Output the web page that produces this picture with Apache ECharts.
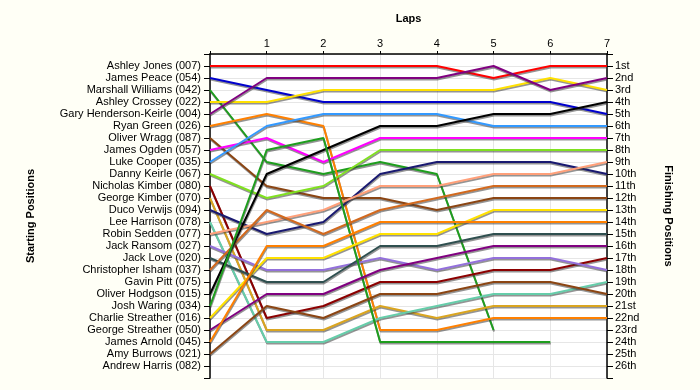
<!DOCTYPE html>
<html>
<head>
<meta charset="utf-8">
<script src="https://cdn.jsdelivr.net/npm/echarts@6/dist/echarts.min.js"></script>
<style>
html,body{margin:0;padding:0;background:#FFFFF6;}
#chart{width:700px;height:390px;}
</style>
</head>
<body>
<div id="chart"></div>
<script>
// ---- data ----
const laps = [0, 1, 2, 3, 4, 5, 6, 7];
const lapTickLabels = ['', '1', '2', '3', '4', '5', '6', '7'];
const startingNames = [
  'Ashley Jones (007)', 'James Peace (054)', 'Marshall Williams (042)', 'Ashley Crossey (022)',
  'Gary Henderson-Keirle (004)', 'Ryan Green (026)', 'Oliver Wragg (087)', 'James Ogden (057)',
  'Luke Cooper (035)', 'Danny Keirle (067)', 'Nicholas Kimber (080)', 'George Kimber (070)',
  'Duco Verwijs (094)', 'Lee Harrison (078)', 'Robin Sedden (077)', 'Jack Ransom (027)',
  'Jack Love (020)', 'Christopher Isham (037)', 'Gavin Pitt (075)', 'Oliver Hodgson (015)',
  'Josh Waring (034)', 'Charlie Streather (016)', 'George Streather (050)', 'James Arnold (045)',
  'Amy Burrows (021)', 'Andrew Harris (082)'
];
const finishLabels = ['1st','2nd','3rd','4th','5th','6th','7th','8th','9th','10th','11th','12th','13th',
  '14th','15th','16th','17th','18th','19th','20th','21st','22nd','23rd','24th','25th','26th'];

// positions at laps 0..7 (null = not running)
const posAshleyJones      = [1, 1, 1, 1, 1, 2, 1, 1];
const posJamesPeace       = [2, 3, 4, 4, 4, 4, 4, 5];
const posMarshallWilliams = [3, 9, 10, 9, 10, 23, null, null];
const posAshleyCrossey    = [4, 4, 3, 3, 3, 3, 2, 3];
const posGaryHK           = [5, 2, 2, 2, 2, 1, 3, 2];
const posRyanGreen        = [6, 5, 6, 23, 23, 22, 22, 22];
const posOliverWragg      = [7, 11, 12, 12, 13, 12, 12, 12];
const posJamesOgden       = [8, 7, 9, 7, 7, 7, 7, 7];
const posLukeCooper       = [9, 6, 5, 5, 5, 6, 6, 6];
const posDannyKeirle      = [10, 12, 11, 8, 8, 8, 8, 8];
const posNicholasKimber   = [11, 22, 21, 19, 19, 18, 18, 17];
const posGeorgeKimber     = [12, 23, 23, 21, 22, 21, 21, 21];
const posDucoVerwijs      = [13, 15, 14, 10, 9, 9, 9, 10];
const posLeeHarrison      = [14, 24, 24, 22, 21, 20, 20, 19];
const posRobinSedden      = [15, 14, 13, 11, 11, 10, 10, 9];
const posJackRansom       = [16, 18, 18, 17, 18, 17, 17, 18];
const posJackLove         = [17, 19, 19, 16, 16, 15, 15, 15];
const posChristopherIsham = [18, 13, 15, 13, 12, 11, 11, 11];
const posOliverHodgson    = [20, 10, 8, 6, 6, 5, 5, 4];
const posJoshWaring       = [21, 8, 7, 24, 24, 24, 24, null];
const posCharlieStreather = [22, 17, 17, 15, 15, 13, 13, 13];
const posGeorgeStreather  = [23, 20, 20, 18, 17, 16, 16, 16];
const posJamesArnold      = [24, 16, 16, 14, 14, 14, 14, 14];
const posAmyBurrows       = [25, 21, 22, 20, 20, 19, 19, 20];

// ---- styles ----
const lineDefs = [
  [posAshleyJones, '#FF0000'],
  [posJamesPeace, '#0000CC'],
  [posMarshallWilliams, '#1E9E1E'],
  [posAshleyCrossey, '#FFE100'],
  [posGaryHK, '#800080'],
  [posRyanGreen, '#FF8000'],
  [posOliverWragg, '#8B4513'],
  [posJamesOgden, '#FF00FF'],
  [posLukeCooper, '#3399FF'],
  [posDannyKeirle, '#80E020'],
  [posNicholasKimber, '#8B0000'],
  [posGeorgeKimber, '#DAA520'],
  [posDucoVerwijs, '#191970'],
  [posLeeHarrison, '#66CDAA'],
  [posRobinSedden, '#FFA07A'],
  [posJackRansom, '#9370DB'],
  [posJackLove, '#2F4F4F'],
  [posChristopherIsham, '#D2691E'],
  [posOliverHodgson, '#000000'],
  [posJoshWaring, '#1E9E1E'],
  [posCharlieStreather, '#FFE100'],
  [posGeorgeStreather, '#800080'],
  [posJamesArnold, '#FF8000'],
  [posAmyBurrows, '#8B4513']
];

const FONT = 'Liberation Sans';

const series = lineDefs.map(([pos, color]) => ({
  type: 'line',
  data: laps.map((l, i) => pos[i] == null ? [l, null] : [l, pos[i]]),
  symbol: 'none',
  connectNulls: false,
  animation: false,
  lineStyle: {
    width: 2, color: color,
    shadowColor: 'rgba(60,60,60,0.55)', shadowBlur: 0, shadowOffsetX: 0.5, shadowOffsetY: 1.5
  },
  itemStyle: { color: color }
}));

const yCommon = {
  type: 'value', inverse: true, min: 0, max: 27, interval: 1,
  axisLine: { show: true, lineStyle: { color: '#000', width: 1.5 } },
  axisTick: { show: true, length: 6, lineStyle: { color: '#000' } },
  splitLine: { show: true, lineStyle: { color: '#E6E6E6', width: 1 } },
  nameLocation: 'middle',
  nameTextStyle: { fontFamily: FONT, fontSize: 11, fontWeight: 'bold', color: '#000' }
};

const chart = echarts.init(document.getElementById('chart'), null, { renderer: 'canvas' });
chart.setOption({
  backgroundColor: '#FFFFF6',
  animation: false,
  grid: { left: 210, right: 93, top: 54, bottom: 12, show: true, backgroundColor: '#FFFFFF', borderWidth: 0 },
  xAxis: {
    type: 'value', position: 'top', min: 0, max: 7, interval: 1,
    name: 'Laps', nameLocation: 'middle', nameGap: 30,
    nameTextStyle: { fontFamily: FONT, fontSize: 11, fontWeight: 'bold', color: '#000' },
    axisLine: { show: true, lineStyle: { color: '#000', width: 1.5 } },
    axisTick: { show: true, length: 3, lineStyle: { color: '#000' } },
    axisLabel: { fontFamily: FONT, fontSize: 11, color: '#000', margin: 5,
      formatter: v => lapTickLabels[v] },
    splitLine: { show: true, lineStyle: { color: '#E6E6E6' } }
  },
  yAxis: [
    Object.assign({}, yCommon, {
      position: 'left', name: 'Starting Positions', nameRotate: 90, nameGap: 174,
      axisLabel: { fontFamily: FONT, fontSize: 11, color: '#000', margin: 9,
        formatter: v => (v >= 1 && v <= 26) ? startingNames[v - 1] : '' }
    }),
    Object.assign({}, yCommon, {
      position: 'right', name: 'Finishing Positions', nameRotate: -90, nameGap: 56,
      splitLine: { show: false },
      axisLabel: { fontFamily: FONT, fontSize: 11, color: '#000', margin: 8,
        formatter: v => (v >= 1 && v <= 26) ? finishLabels[v - 1] : '' }
    })
  ],
  series: series
});
</script>
</body>
</html>
